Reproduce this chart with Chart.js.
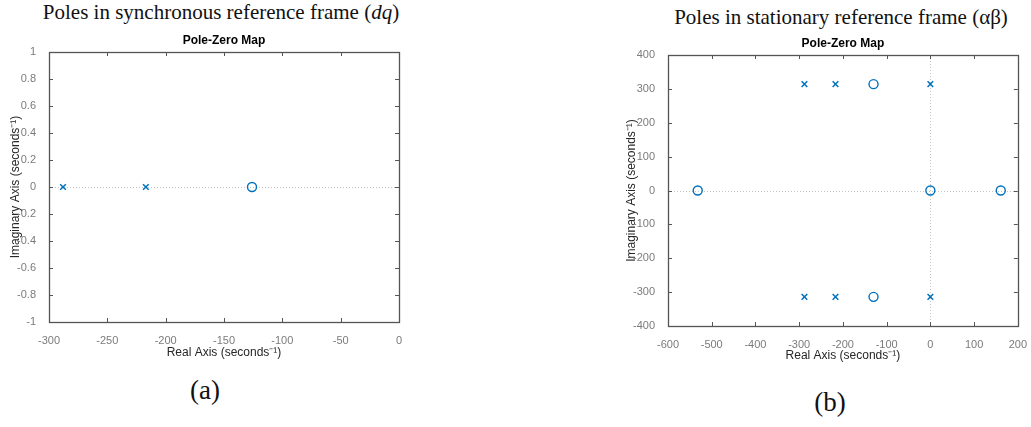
<!DOCTYPE html>
<html>
<head>
<meta charset="utf-8">
<script src="https://cdn.jsdelivr.net/npm/chart.js@4.4.1/dist/chart.umd.min.js"></script>
<style>
body{margin:0;background:#fff;width:1031px;height:427px;overflow:hidden;position:relative;font-family:"Liberation Serif",serif}
canvas{position:absolute;top:0}
.ttl{position:absolute;font-size:21px;color:#111;white-space:nowrap;transform:translateX(-50%)}
.lab{position:absolute;font-size:27px;color:#111;transform:translateX(-50%)}
</style>
</head>
<body>
<div class="ttl" style="left:221px;top:0px">Poles in synchronous reference frame (<i>dq</i>)</div>
<div class="ttl" style="left:841px;top:5px">Poles in stationary reference frame (αβ)</div>
<div class="lab" style="left:205px;top:375px">(a)</div>
<div class="lab" style="left:830px;top:387px">(b)</div>
<canvas id="chartA" width="415" height="370" style="left:0"></canvas>
<canvas id="chartB" width="431" height="370" style="left:600px"></canvas>
<script>
// (a) synchronous frame dq
var polesA = [{x: -288, y: 0}, {x: -217, y: 0}];
var zerosA = [{x: -126, y: 0}];
var xTicksA = [-300, -250, -200, -150, -100, -50, 0];
var yTicksA = [-1, -0.8, -0.6, -0.4, -0.2, 0, 0.2, 0.4, 0.6, 0.8, 1];

// (b) stationary frame alpha-beta
var polesB = [{x: -288, y: 314}, {x: -217, y: 314}, {x: 0, y: 314},
              {x: -288, y: -314}, {x: -217, y: -314}, {x: 0, y: -314}];
var zerosB = [{x: -130, y: 314}, {x: -130, y: -314}, {x: -532, y: 0}, {x: 0, y: 0}, {x: 161, y: 0}];
var xTicksB = [-600, -500, -400, -300, -200, -100, 0, 100, 200];
var yTicksB = [-400, -300, -200, -100, 0, 100, 200, 300, 400];

var blue = "#0072BD";
var tickGray = "#7b7b7b";
var sans = "Arial, 'Liberation Sans', sans-serif";

var frame = {
    id: "frame",
    beforeDatasetsDraw: function(chart){
        var ctx = chart.ctx, a = chart.chartArea;
        var xs = chart.scales.x, ys = chart.scales.y;
        ctx.save();
        ctx.strokeStyle = "#c4c4c4";
        ctx.lineWidth = 1;
        ctx.setLineDash([1, 2]);
        var y0 = Math.round(ys.getPixelForValue(0)) + 0.5;
        ctx.beginPath(); ctx.moveTo(a.left, y0); ctx.lineTo(a.right, y0); ctx.stroke();
        if (xs.max > 0) {
            var x0 = Math.round(xs.getPixelForValue(0)) + 0.5;
            ctx.beginPath(); ctx.moveTo(x0, a.top); ctx.lineTo(x0, a.bottom); ctx.stroke();
        }
        ctx.restore();
    },
    afterDraw: function(chart){
        var ctx = chart.ctx, a = chart.chartArea;
        var xs = chart.scales.x, ys = chart.scales.y;
        ctx.save();
        ctx.strokeStyle = "#555";
        ctx.lineWidth = 1;
        ctx.beginPath();
        xs.ticks.forEach(function(t){
            var p = Math.round(xs.getPixelForValue(t.value)) + 0.5;
            ctx.moveTo(p, a.top); ctx.lineTo(p, a.top + 4);
            ctx.moveTo(p, a.bottom); ctx.lineTo(p, a.bottom - 4);
        });
        ys.ticks.forEach(function(t){
            var p = Math.round(ys.getPixelForValue(t.value)) + 0.5;
            ctx.moveTo(a.left, p); ctx.lineTo(a.left + 4, p);
            ctx.moveTo(a.right, p); ctx.lineTo(a.right - 4, p);
        });
        ctx.stroke();
        ctx.lineWidth = 1.3;
        ctx.strokeRect(Math.round(a.left) + 0.5, Math.round(a.top) + 0.5,
                       Math.round(a.right - a.left), Math.round(a.bottom - a.top));
        ctx.fillStyle = "#000";
        ctx.font = "bold 12px " + sans;
        ctx.textAlign = "center";
        ctx.textBaseline = "middle";
        ctx.fillText("Pole-Zero Map", (a.left + a.right) / 2, a.top - 11);
        ctx.restore();
    }
};

function makeChart(id, poles, zeros, xTicks, yTicks, pad, yWidth, xHeight){
    return new Chart(id, {
        type: "scatter",
        data: {
            datasets: [{
                data: poles,
                pointStyle: "crossRot",
                pointRadius: 4,
                borderColor: blue,
                borderWidth: 1.5
            }, {
                data: zeros,
                pointStyle: "circle",
                pointRadius: 4.5,
                borderColor: blue,
                backgroundColor: "rgba(0,0,0,0)",
                borderWidth: 1.4
            }]
        },
        options: {
            responsive: false,
            animation: false,
            layout: {padding: pad},
            plugins: {legend: {display: false}, tooltip: {enabled: false}},
            scales: {
                x: {
                    type: "linear",
                    min: xTicks[0], max: xTicks[xTicks.length - 1],
                    grid: {display: false}, border: {display: false},
                    afterBuildTicks: function(s){ s.ticks = xTicks.map(function(v){ return {value: v}; }); },
                    afterFit: function(s){ s.height = xHeight; },
                    ticks: {color: tickGray, font: {family: sans, size: 11}, padding: 4, maxRotation: 0,
                             callback: function(v){ return String(v); }},
                    title: {display: true, text: "Real Axis (seconds⁻¹)", color: "#262626",
                            font: {family: sans, size: 12}, padding: 0}
                },
                y: {
                    type: "linear",
                    min: yTicks[0], max: yTicks[yTicks.length - 1],
                    grid: {display: false}, border: {display: false},
                    afterBuildTicks: function(s){ s.ticks = yTicks.map(function(v){ return {value: v}; }); },
                    afterFit: function(s){ s.width = yWidth; },
                    ticks: {color: tickGray, font: {family: sans, size: 11}, padding: 5,
                             callback: function(v){ return String(Math.round(v * 10) / 10); }},
                    title: {display: true, text: "Imaginary Axis (seconds⁻¹)", color: "#262626",
                            font: {family: sans, size: 12}, padding: 0}
                }
            }
        },
        plugins: [frame]
    });
}

makeChart("chartA", polesA, zerosA, xTicksA, yTicksA, {left: 8, top: 52, right: 16, bottom: 10}, 41, 38);
makeChart("chartB", polesB, zerosB, xTicksB, yTicksB, {left: 24, top: 55, right: 10, bottom: 7}, 44, 37);
</script>
</body>
</html>
